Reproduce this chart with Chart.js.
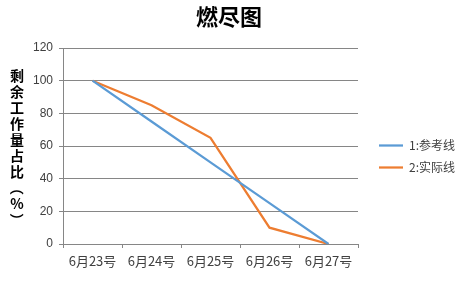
<!DOCTYPE html>
<html>
<head>
<meta charset="utf-8">
<script src="https://cdn.jsdelivr.net/npm/chart.js@4"></script>
<style>
  html, body { margin: 0; padding: 0; background: #fff; }
  #wrap { width: 474px; height: 287px; }
</style>
</head>
<body>
<div id="wrap"><canvas id="burndown"></canvas></div>
<script>
var days = ['6月23号', '6月24号', '6月25号', '6月26号', '6月27号'];
var referenceLine = [100, 75, 50, 25, 0];
var actualLine = [100, 85, 65, 10, 0];
var seriesNames = ['1:参考线', '2:实际线'];
var yTicks = [0, 20, 40, 60, 80, 100, 120];
var chartTitle = '燃尽图';
var yTitle = '剩余工作量占比（%）';

var cjk = '"Noto Sans CJK SC", "Noto Sans", sans-serif';

// vertical y title + title, drawn on the canvas
var extraText = {
    id: 'extraText',
    afterLayout: function(chart) {
        // push the legend a bit away from the plot area, and up
        if (chart.legend) {
            chart.legend.left += 11;
            chart.legend.right += 11;
            chart.legend.top -= 11;
            chart.legend.bottom -= 11;
        }
    },
    afterDraw: function(chart) {
        var ctx = chart.ctx;
        ctx.save();
        ctx.fillStyle = '#000';
        ctx.textAlign = 'center';
        ctx.textBaseline = 'middle';
        ctx.font = 'bold 22px ' + cjk;
        ctx.fillText(chartTitle, 229, 17);

        ctx.font = 'bold 14px ' + cjk;
        var chars = Array.from(yTitle);
        var y = 76;
        chars.forEach(function(c) {
            if (c === '（' || c === '）') {
                ctx.save();
                ctx.translate(17, y);
                ctx.rotate(Math.PI / 2);
                ctx.fillText(c, 0, 0);
                ctx.restore();
            } else {
                ctx.fillText(c, 17, y);
            }
            y += 16;
        });
        ctx.restore();
    }
};

new Chart(document.getElementById('burndown'), {
    type: 'line',
    data: {
        labels: days,
        datasets: [{
            label: seriesNames[0],
            data: referenceLine,
            borderColor: '#5b9bd5',
            backgroundColor: '#5b9bd5',
            borderWidth: 2.25,
            pointRadius: 0,
            tension: 0
        }, {
            label: seriesNames[1],
            data: actualLine,
            borderColor: '#ed7d31',
            backgroundColor: '#ed7d31',
            borderWidth: 2.25,
            pointRadius: 0,
            tension: 0
        }]
    },
    options: {
        responsive: true,
        maintainAspectRatio: false,
        animation: false,
        layout: { padding: { left: 0, top: 48, right: 20, bottom: 0 } },
        plugins: {
            title: { display: false },
            tooltip: { enabled: false },
            legend: {
                position: 'right',
                labels: {
                    usePointStyle: true,
                    pointStyle: 'line',
                    pointStyleWidth: 24,
                    color: '#404040',
                    font: { family: cjk, size: 12 },
                    padding: 10
                }
            }
        },
        scales: {
            x: {
                offset: true,
                grid: {
                    offset: true,
                    display: true,
                    drawOnChartArea: false,
                    drawTicks: true,
                    tickLength: 4,
                    color: '#868686'
                },
                border: { color: '#868686' },
                ticks: {
                    color: '#404040',
                    font: { family: cjk, size: 13 },
                    maxRotation: 0,
                    padding: 5
                },
                afterFit: function(scale) { scale.height = 43; }
            },
            y: {
                min: 0,
                max: 120,
                afterBuildTicks: function(scale) {
                    scale.ticks = yTicks.map(function(v) { return { value: v }; });
                },
                grid: {
                    color: '#868686',
                    tickLength: 4
                },
                border: { color: '#868686' },
                ticks: {
                    color: '#404040',
                    font: { family: '"Liberation Sans", sans-serif', size: 12 },
                    padding: 6
                },
                afterFit: function(scale) { scale.width = 63; }
            }
        }
    },
    plugins: [extraText]
});
</script>
</body>
</html>
